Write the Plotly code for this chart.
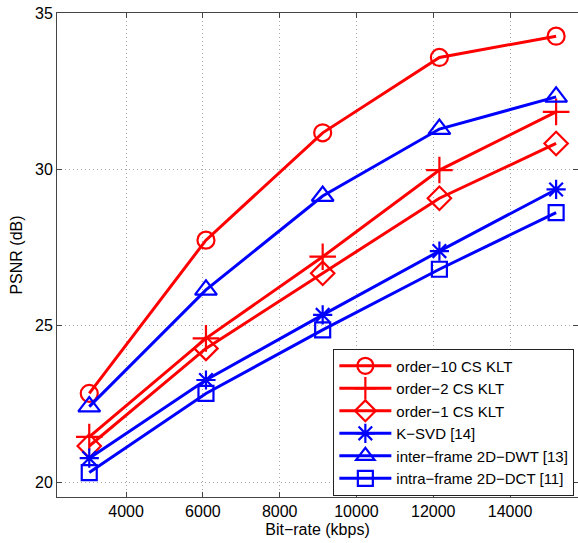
import plotly.graph_objects as go

bitrate = [3040, 6080, 9120, 12160, 15200]

names = ["order\u221210 CS KLT", "order\u22122 CS KLT", "order\u22121 CS KLT",
         "K\u2212SVD [14]", "inter\u2212frame 2D\u2212DWT [13]", "intra\u2212frame 2D\u2212DCT [11]"]

order10 = [22.84, 27.74, 31.17, 33.58, 34.26]
order2 = [21.45, 24.60, 27.21, 29.98, 31.84]
order1 = [21.16, 24.28, 26.68, 29.08, 30.83]
ksvd = [20.77, 23.27, 25.35, 27.39, 29.36]
dwt = [22.42, 26.15, 29.15, 31.29, 32.32]
dct = [20.31, 22.84, 24.87, 26.81, 28.62]

x_ticks = [4000, 6000, 8000, 10000, 12000, 14000]
y_ticks = [20, 25, 30, 35]

series = [
    (names[0], order10, "red", "circle-open", 17),
    (names[1], order2, "red", "cross-thin-open", 19),
    (names[2], order1, "red", "diamond-open", 18),
    (names[3], ksvd, "blue", "asterisk-open", 16),
    (names[4], dwt, "blue", "triangle-up-open", 19),
    (names[5], dct, "blue", "square-open", 15),
]

fig = go.Figure()
for name, vals, col, sym, sz in series:
    fig.add_trace(go.Scatter(
        x=bitrate, y=vals, name=name, mode="lines+markers",
        line=dict(color=col, width=3),
        marker=dict(symbol=sym, size=sz, color=col, line=dict(color=col, width=2.2)),
    ))

axis_common = dict(
    showline=True, linecolor="#444444", linewidth=1, mirror="ticks",
    ticks="inside", ticklen=5, tickcolor="#444444",
    showgrid=True, gridcolor="#a8a8a8", griddash="1px,3px", gridwidth=1,
    zeroline=False, tickfont=dict(size=16, color="black"), automargin=False,
)

fig.update_layout(
    width=578, height=543,
    margin=dict(l=57, r=0, t=13, b=46),
    paper_bgcolor="white", plot_bgcolor="white",
    font=dict(family="Liberation Sans, Arial, sans-serif", size=16, color="black"),
    showlegend=True,
    legend=dict(
        x=0.993, y=0.003, xanchor="right", yanchor="bottom",
        bordercolor="#222222", borderwidth=1, bgcolor="white",
        font=dict(size=15), tracegroupgap=0, itemwidth=52,
    ),
)
fig.update_xaxes(range=[2200, 15770], tickvals=x_ticks, ticktext=[str(v) for v in x_ticks],
                 title=dict(text="Bit\u2212rate (kbps)", font=dict(size=16), standoff=4), **axis_common)
fig.update_yaxes(range=[19.53, 35], tickvals=y_ticks, ticktext=[str(v) for v in y_ticks],
                 title=dict(text="PSNR (dB)", font=dict(size=16), standoff=8), **axis_common)

fig.write_html("out.html", post_script="document.body.style.margin='0';",
               config={"displayModeBar": False})
